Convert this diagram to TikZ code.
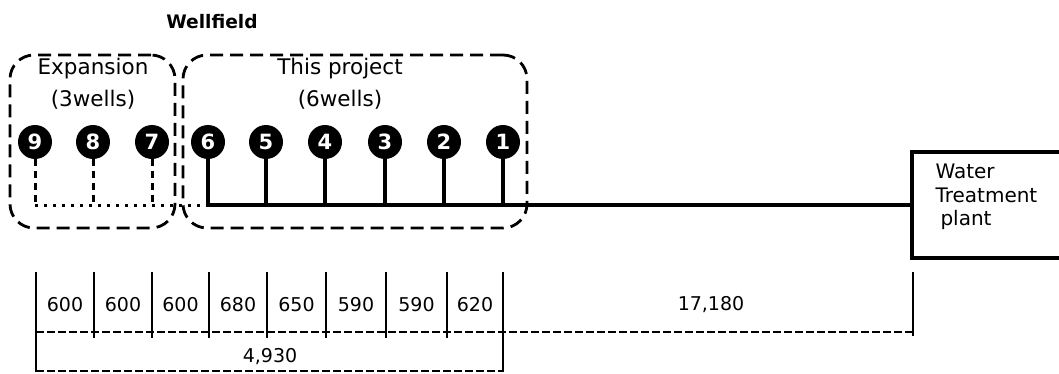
\documentclass[tikz,border=0pt]{standalone}
\usepackage{fontspec}
\setmainfont{DejaVu Sans}

\begin{document}
\begin{tikzpicture}[x=1pt,y=-1pt,grp/.style={draw,line width=2.8pt,dash pattern=on 13pt off 7pt,rounded corners=24pt,minimum height=173pt},well/.style={circle,fill=black,text=white,inner sep=0pt,minimum size=34pt,font=\fontsize{21}{21}\selectfont\bfseries},pipe/.style={line width=3.2pt},futpipe/.style={line width=3pt,dash pattern=on 7pt off 5pt},tick/.style={line width=2.5pt},dimln/.style={line width=1.2pt,dash pattern=on 8pt off 3pt},num/.style={font=\fontsize{19}{19}\selectfont},lbl/.style={align=center,font=\fontsize{21.5}{32}\selectfont}]
\useasboundingbox (0,0) rectangle (1059,374);
\node[font=\fontsize{18.6}{20}\selectfont\bfseries] (wellfield) at (212,22) {Wellfield};
\node[grp,minimum width=165pt] (expansion) at (92.5,141.5) {};
\node[grp,minimum width=344pt] (project) at (355,141.5) {};
\node[lbl] (explbl) at (93,84) {Expansion\\(3wells)};
\node[lbl] (projlbl) at (340,84) {This project\\(6wells)};
\node[well] (w9) at (35,142) {9};
\node[well] (w8) at (93,142) {8};
\node[well] (w7) at (152,142) {7};
\node[well] (w6) at (208,142) {6};
\node[well] (w5) at (266,142) {5};
\node[well] (w4) at (325,142) {4};
\node[well] (w3) at (385,142) {3};
\node[well] (w2) at (444,142) {2};
\node[well] (w1) at (503,142) {1};
\node[draw,line width=3.2pt,minimum width=158pt,minimum height=106pt] (plant) at (991,205) {};
\node[anchor=west,align=left,font=\fontsize{20}{23.5}\selectfont] (plantlbl) at (932,197) {Water\\Treatment\\\hspace*{5pt}plant};
% pipe junctions
\coordinate (j9) at (35,205);
\coordinate (j8) at (93,205);
\coordinate (j7) at (152,205);
\coordinate (j6) at (208,205);
\coordinate (j5) at (266,205);
\coordinate (j4) at (325,205);
\coordinate (j3) at (385,205);
\coordinate (j2) at (444,205);
\coordinate (j1) at (503,205);
\draw[pipe] (j6)--(plant.west);
\draw[pipe] (w6)--(j6);
\draw[pipe] (w5)--(j5);
\draw[pipe] (w4)--(j4);
\draw[pipe] (w3)--(j3);
\draw[pipe] (w2)--(j2);
\draw[pipe] (w1)--(j1);
\draw[futpipe] (w7)--(j7);
\draw[futpipe] (w8)--(j8);
\draw[futpipe] (w9)--(j9);
\draw[line width=3pt,dash pattern=on 3pt off 6pt] (j9)--(j6);
% distances
\draw[tick] (36,272)--(36,372);
\draw[tick] (94,272)--(94,338);
\draw[tick] (152,272)--(152,338);
\draw[tick] (209,272)--(209,338);
\draw[tick] (267,272)--(267,338);
\draw[tick] (326,272)--(326,338);
\draw[tick] (386,272)--(386,338);
\draw[tick] (447,272)--(447,338);
\draw[tick] (503,272)--(503,372);
\draw[tick] (913,272)--(913,336);
\draw[dimln] (36,332)--(913,332);
\draw[dimln] (36,371)--(503,371);
\node[num] (s1) at (65,305) {600};
\node[num] (s2) at (123,305) {600};
\node[num] (s3) at (180.5,305) {600};
\node[num] (s4) at (238,305) {680};
\node[num] (s5) at (296.5,305) {650};
\node[num] (s6) at (356,305) {590};
\node[num] (s7) at (416.5,305) {590};
\node[num] (s8) at (475,305) {620};
\node[num] (s9) at (711,305) {17,180};
\node[num] (total) at (270,357) {4,930};
\end{tikzpicture}
\end{document}
